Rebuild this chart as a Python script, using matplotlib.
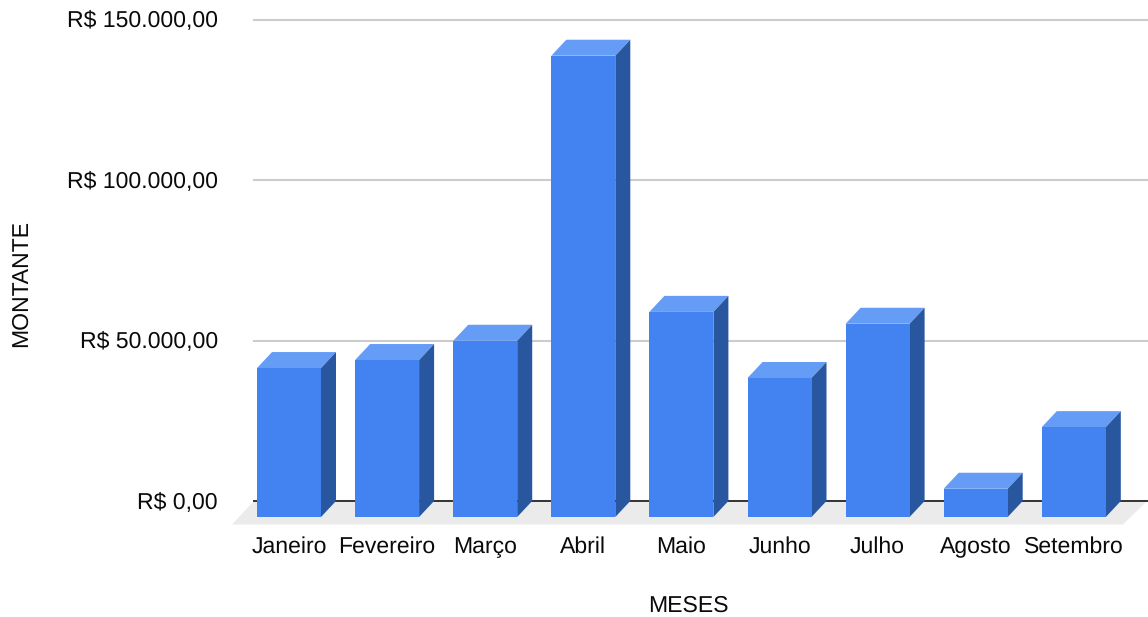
import matplotlib
matplotlib.use("Agg")
import matplotlib.pyplot as plt
from matplotlib.ticker import FuncFormatter
from matplotlib.transforms import ScaledTranslation

meses = ["Janeiro", "Fevereiro", "Março", "Abril", "Maio", "Junho", "Julho", "Agosto", "Setembro"]
montante = [46400, 48900, 54900, 143700, 63900, 43300, 60200, 8800, 28000]
yticks = [0, 50000, 100000, 150000]

W, H = 1148, 617
plt.rcParams["font.family"] = ["Liberation Sans", "DejaVu Sans"]
plt.rcParams["text.hinting"] = "no_hinting"
plt.rcParams["text.hinting_factor"] = 1

FRONT = "#4283f1"
TOP = "#659cf6"
SIDE = "#28579f"
FLOOR = "#ebebeb"
TEXT = "#0a0a0a"
FS = 16.3

fig = plt.figure(figsize=(W / 100, H / 100), dpi=100, facecolor="white")

# Plot area in figure pixels
left, right, top, bottom = 254, 1146.5, 19.5, 501
ax = fig.add_axes([left / W, 1 - bottom / H, (right - left) / W, (bottom - top) / H])

cat_px = 98.1
first_center = 289
ax.set_xlim((left - first_center) / cat_px, (right - first_center) / cat_px)
ax.set_ylim(0, 150000)
val_px = (bottom - top) / 150000

# Pseudo-3D extrusion expressed in axis units
bar_w = 64 / cat_px
dx = 15 / cat_px
dy = 16 / val_px

# Floor slab below the zero line
x0, x1 = ax.get_xlim()
floor_dx = 22 / cat_px
floor_dy = 23.5 / val_px
ax.fill([x0 - floor_dx, x0, x1 + 0.005, x1 + 0.005 - 24 / cat_px],
        [-floor_dy, 0, 0, -floor_dy],
        color=FLOOR, lw=0, zorder=1, clip_on=False)

for i, v in enumerate(montante):
    l, r = i - bar_w / 2, i + bar_w / 2
    ax.fill([l, r, r + dx, l + dx], [v - dy, v - dy, v, v],
            color=TOP, lw=0, zorder=4, clip_on=False)
    ax.fill([r, r + dx, r + dx, r], [-dy, 0, v, v - dy],
            color=SIDE, lw=0, zorder=4, clip_on=False)
ax.bar(range(len(meses)), montante, width=bar_w, bottom=-dy, color=FRONT,
       linewidth=0, zorder=5, clip_on=False)

for s in ["top", "left", "right"]:
    ax.spines[s].set_visible(False)
ax.spines["bottom"].set_color("#333333")
ax.spines["bottom"].set_linewidth(1.4)
ax.spines["bottom"].set_zorder(3)

ax.set_yticks(yticks)
ax.yaxis.set_major_formatter(FuncFormatter(lambda v, _: f"R$ {v:,.2f}".replace(",", "X").replace(".", ",").replace("X", ".")))
ax.grid(axis="y", color="#cccccc", linewidth=1.5, zorder=0)
ax.set_axisbelow(True)
ax.tick_params(axis="y", length=0, pad=26, labelsize=FS, labelcolor=TEXT)
ax.set_xticks(range(len(meses)), meses)
ax.tick_params(axis="x", length=0, pad=25.5, labelsize=FS, labelcolor=TEXT)
for line in ax.get_ygridlines():
    line.set_clip_on(False)

# Lift the value labels slightly so they sit on their gridlines
nudge = ScaledTranslation(0, 1.5 / 100, fig.dpi_scale_trans)
for tick_label in ax.get_yticklabels():
    tick_label.set_transform(tick_label.get_transform() + nudge)

fig.text(688.5 / W, 1 - 605.5 / H, "MESES", ha="center", va="center", fontsize=FS, color=TEXT)
fig.text(20.5 / W, 1 - 283.5 / H, "MONTANTE", ha="center", va="center", rotation=90, fontsize=FS, color=TEXT)

fig.savefig("out.png", dpi=100, facecolor="white")
